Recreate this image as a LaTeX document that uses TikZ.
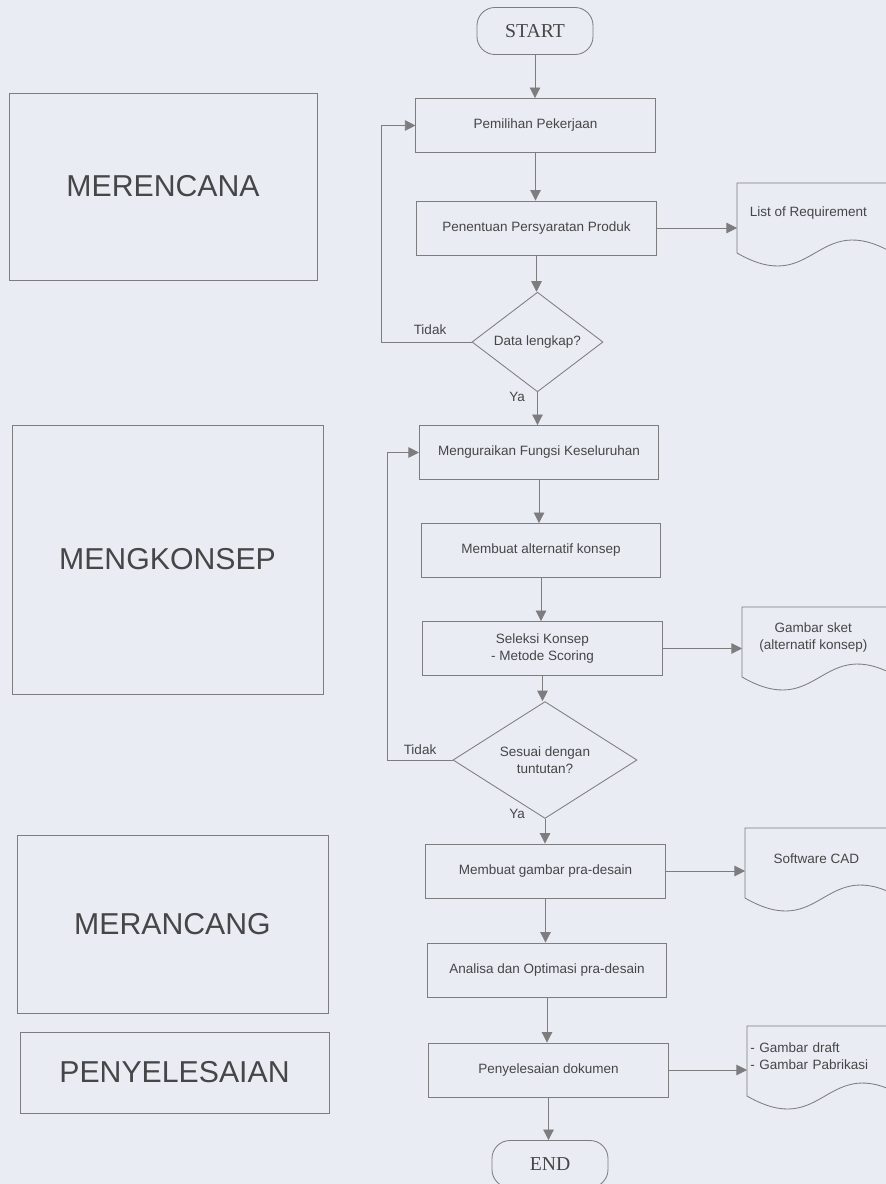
\documentclass[tikz,border=0pt]{standalone}
\usetikzlibrary{arrows.meta,shapes.geometric}
\usepackage{fontspec}
\setmainfont{Liberation Sans}
\newfontfamily\termfont{Liberation Serif}
\definecolor{paper}{RGB}{233,236,242}
\definecolor{ink}{RGB}{70,70,72}
\definecolor{wire}{RGB}{125,125,128}

\begin{document}
\begin{tikzpicture}[x=0.025cm,y=-0.025cm,
	every node/.style={text=ink,font=\fontsize{9.6}{12}\selectfont},
	phase/.style={draw=wire,line width=0.6pt,font=\fontsize{21.5}{24}\selectfont},
	proc/.style={draw=wire,line width=0.6pt,minimum width=5.98cm,minimum height=1.35cm,align=center},
	decide/.style={draw=wire,line width=0.6pt,diamond,inner sep=0pt,align=center},
	term/.style={draw=wire,line width=0.6pt,rounded corners=0.45cm,minimum width=2.9cm,minimum height=1.175cm,font=\termfont\fontsize{14}{16}\selectfont},
	docbox/.style={anchor=north west,minimum width=3.55cm,minimum height=1.5cm,align=center},
	arr/.style={-{Triangle[length=7.5pt,width=7.5pt]},draw=wire,line width=0.6pt}]
	\useasboundingbox (0,0) rectangle (886,1184);
	\clip (0,0) rectangle (886,1184);
	\fill[paper] (0,0) rectangle (886,1184);
	\foreach \n/\x/\y/\w/\h/\t in {
			plan/163/186.5/308/187/MERENCANA,
			konsep/167.5/559.5/311/269/MENGKONSEP,
			rancang/172.5/924/311/178/MERANCANG,
			akhir/174.5/1072.5/309/81/PENYELESAIAN}
		\node[phase,minimum width=\w*0.025cm,minimum height=\h*0.025cm] (\n) at (\x,\y) {\t};
	\node[term] (start) at (535,31) {START};
	\node[proc] (pilih) at (535.5,125.5) {Pemilihan Pekerjaan};
	\node[proc] (syarat) at (536.5,228) {Penentuan Persyaratan Produk};
	\node[decide,minimum width=3.275cm,minimum height=2cm] (data) at (537.5,342) {Data lengkap?};
	\node[proc] (urai) at (539,452.5) {Menguraikan Fungsi Keseluruhan};
	\node[proc] (alt) at (541,550.5) {Membuat alternatif konsep};
	\node[proc] (seleksi) at (542.5,648.5) {Seleksi Konsep\\- Metode Scoring};
	\node[decide,minimum width=4.6cm,minimum height=2cm] (sesuai) at (545,760) {Sesuai dengan\\tuntutan?};
	\node[proc] (pradesain) at (545.5,871) {Membuat gambar pra-desain};
	\node[proc] (analisa) at (547,970) {Analisa dan Optimasi pra-desain};
	\node[proc] (selesai) at (548.5,1070) {Penyelesaian dokumen};
	\node[term] (finish) at (550,1164) {END};
	\node[docbox] (req) at (737,183) {List of Requirement};
	\node[docbox] (sket) at (742,607) {Gambar sket\\(alternatif konsep)};
	\node[docbox] (cad) at (745,828) {Software CAD};
	\node[docbox,align=left,text width=3.4cm,inner xsep=0.075cm] (draft) at (747,1026) {- Gambar draft\\- Gambar Pabrikasi};
	\foreach \d in {req,sket,cad,draft}
		\draw[wire,line width=0.6pt] ([shift={(156,0)}]\d.north west) -- (\d.north west) -- ([shift={(0,70)}]\d.north west)
			.. controls ([shift={(78,115)}]\d.north west) and ([shift={(78,25)}]\d.north west) .. ([shift={(156,70)}]\d.north west);
	\foreach \a/\b in {start/pilih,pilih/syarat,syarat/data,data/urai,urai/alt,alt/seleksi,
			seleksi/sesuai,sesuai/pradesain,pradesain/analisa,analisa/selesai,selesai/finish}
		\draw[arr] (\a.south) -- (\a.south |- \b.north);
	\foreach \a/\b in {syarat/req,seleksi/sket,pradesain/cad,selesai/draft}
		\draw[arr] (\a.east) -- (\a.east -| \b.west);
	\coordinate (back1) at (381,342);
	\coordinate (back2) at (387,760);
	\draw[arr] (data.west) -- (back1) |- (pilih.west);
	\draw[arr] (sesuai.west) -- (back2) |- (urai.west);
	\node (tidak1) at (430,330) {Tidak};
	\node (ya1) at (517,397) {Ya};
	\node (tidak2) at (420,750) {Tidak};
	\node (ya2) at (517,814) {Ya};
\end{tikzpicture}
\end{document}
